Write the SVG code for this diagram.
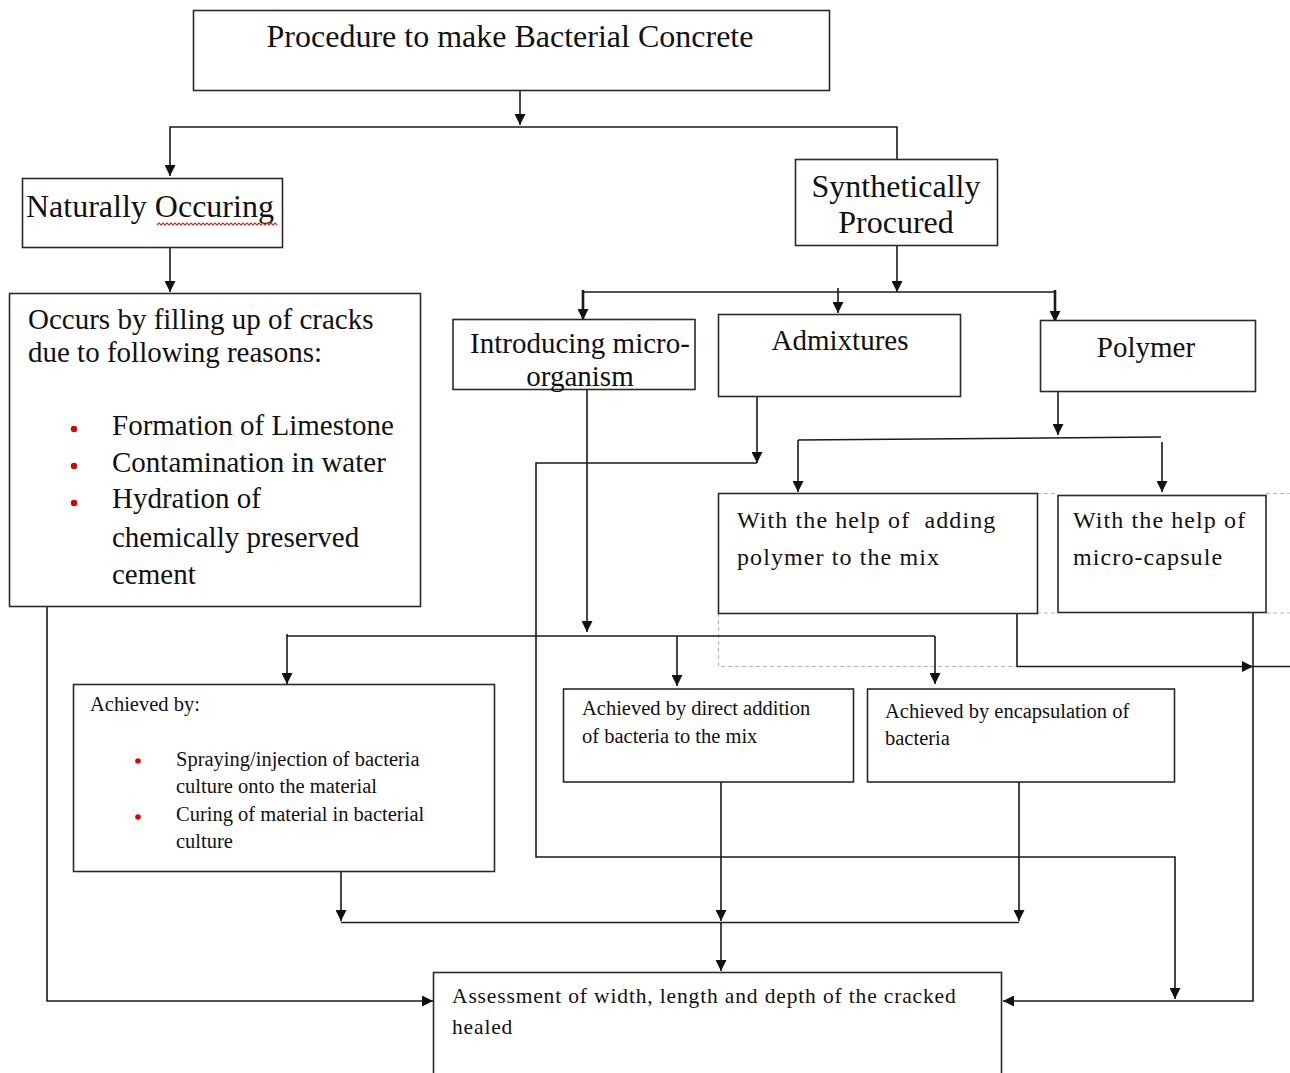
<svg xmlns="http://www.w3.org/2000/svg" width="1290" height="1073" viewBox="0 0 1290 1073">
<style>
.box{fill:#fff;stroke:#2a2a2a;stroke-width:1.6}
.t{font-family:"Liberation Serif","Times New Roman",serif;fill:#111}
.c{fill:none;stroke:#1a1a1a;stroke-width:1.6}
.thick{stroke-width:2.6}
.d{fill:none;stroke:#b8b8b8;stroke-width:1.2;stroke-dasharray:4 3}
.dot{fill:#e00000}
</style>
<defs>
<marker id="ah" markerUnits="userSpaceOnUse" viewBox="0 0 10 10" refX="10" refY="5" markerWidth="12" markerHeight="11" orient="auto">
<path d="M0,0 L10,5 L0,10 z" fill="#111"/>
</marker>
</defs>
<rect width="1290" height="1073" fill="#fff"/>

<g id="dashed-guides">
<path class="d" d="M1037,493.5 H1058 M1266,493.5 H1290"/>
<path class="d" d="M1037,613 H1058 M1266,613 H1290"/>
<path class="d" d="M718.5,613 V666.5 H1016"/>
</g>

<g id="connectors">
<path class="c" d="M520,89 V125" marker-end="url(#ah)"/>
<path class="c" d="M897,159 V127 H170 V176" marker-end="url(#ah)"/>
<path class="c" d="M170,247 V292" marker-end="url(#ah)"/>
<path class="c" d="M897,245 V292" marker-end="url(#ah)"/>
<path class="c" d="M583,292 H1055"/>
<path class="c thick" d="M583,290 V320" marker-end="url(#ah)"/>
<path class="c" d="M838,288 V313" marker-end="url(#ah)"/>
<path class="c thick" d="M1055,290 V322" marker-end="url(#ah)"/>
<path class="c" d="M587,389 V632" marker-end="url(#ah)"/>
<path class="c" d="M757,393 V463" marker-end="url(#ah)"/>
<path class="c" d="M757,463 H536 V857 H1175 V999" marker-end="url(#ah)"/>
<path class="c" d="M1058,391 V435" marker-end="url(#ah)"/>
<path class="c" d="M798,440 L1161,437"/>
<path class="c" d="M798,440 V492" marker-end="url(#ah)"/>
<path class="c" d="M1162,442 V492" marker-end="url(#ah)"/>
<path class="c" d="M1017,613 V666.5 H1253" marker-end="url(#ah)"/>
<path class="c" d="M1253,666.5 H1290"/>
<path class="c" d="M1253,612 V1001 H1003" marker-end="url(#ah)"/>
<path class="c" d="M287,636 H935"/>
<path class="c" d="M287,634 V684" marker-end="url(#ah)"/>
<path class="c" d="M677,636 V686" marker-end="url(#ah)"/>
<path class="c" d="M935,636 V684" marker-end="url(#ah)"/>
<path class="c" d="M341,871 V921" marker-end="url(#ah)"/>
<path class="c" d="M721,782 V921" marker-end="url(#ah)"/>
<path class="c" d="M1019,782 V921" marker-end="url(#ah)"/>
<path class="c" d="M341,922.5 H1019"/>
<path class="c" d="M721,922 V971" marker-end="url(#ah)"/>
<path class="c" d="M47,603 V1001 H433" marker-end="url(#ah)"/>
</g>

<g id="n-title">
<rect class="box" x="193.5" y="10.5" width="636" height="80"/>
<text class="t" x="510" y="47" font-size="32" text-anchor="middle">Procedure to make Bacterial Concrete</text>
</g>

<g id="n-natural">
<rect class="box" x="22.5" y="178.5" width="260" height="69"/>
<text class="t" x="26" y="217" font-size="32">Naturally Occuring</text>
<path d="M157,225 l2,-2 l2,2 l2,-2 l2,2 l2,-2 l2,2 l2,-2 l2,2 l2,-2 l2,2 l2,-2 l2,2 l2,-2 l2,2 l2,-2 l2,2 l2,-2 l2,2 l2,-2 l2,2 l2,-2 l2,2 l2,-2 l2,2 l2,-2 l2,2 l2,-2 l2,2 l2,-2 l2,2 l2,-2 l2,2 l2,-2 l2,2 l2,-2 l2,2 l2,-2 l2,2 l2,-2 l2,2 l2,-2 l2,2 l2,-2 l2,2 l2,-2 l2,2 l2,-2 l2,2 l2,-2 l2,2 l2,-2 l2,2 l2,-2 l2,2 l2,-2 l2,2 l2,-2 l2,2 l2,-2 l2,2" fill="none" stroke="#e02020" stroke-width="1.1"/>
</g>

<g id="n-occurs">
<rect class="box" x="9.5" y="293.5" width="411" height="313"/>
<text class="t" font-size="29"><tspan x="28" y="329">Occurs by filling up of cracks</tspan><tspan x="28" y="362">due to following reasons:</tspan></text>
<circle class="dot" cx="74" cy="429" r="3.2"/>
<circle class="dot" cx="74" cy="466" r="3.2"/>
<circle class="dot" cx="74" cy="503" r="3.2"/>
<text class="t" font-size="29"><tspan x="112" y="435">Formation of Limestone</tspan><tspan x="112" y="472">Contamination in water</tspan><tspan x="112" y="508">Hydration of</tspan><tspan x="112" y="547">chemically preserved</tspan><tspan x="112" y="584">cement</tspan></text>
</g>

<g id="n-synthetic">
<rect class="box" x="795.5" y="159.5" width="202" height="86"/>
<text class="t" font-size="32" text-anchor="middle"><tspan x="896" y="197">Synthetically</tspan><tspan x="896" y="233">Procured</tspan></text>
</g>

<g id="n-micro">
<rect class="box" x="453" y="319.5" width="242" height="70"/>
<text class="t" font-size="29" text-anchor="middle"><tspan x="580" y="353">Introducing micro-</tspan><tspan x="580" y="386">organism</tspan></text>
</g>

<g id="n-admix">
<rect class="box" x="718.5" y="314.5" width="242" height="82"/>
<text class="t" x="840" y="350" font-size="29" text-anchor="middle">Admixtures</text>
</g>

<g id="n-polymer">
<rect class="box" x="1040.5" y="320.5" width="215" height="71"/>
<text class="t" x="1146" y="357" font-size="29" text-anchor="middle">Polymer</text>
</g>

<g id="n-addpoly">
<rect class="box" x="718.5" y="493.5" width="319" height="120"/>
<text class="t" font-size="24" letter-spacing="1.1"><tspan x="737" y="528" xml:space="preserve">With the help of  adding</tspan><tspan x="737" y="565">polymer to the mix</tspan></text>
</g>

<g id="n-capsule">
<rect class="box" x="1058" y="495.5" width="208" height="117"/>
<text class="t" font-size="24" letter-spacing="1.1"><tspan x="1073" y="528">With the help of</tspan><tspan x="1073" y="565">micro-capsule</tspan></text>
</g>

<g id="n-achieved">
<rect class="box" x="73.5" y="684.5" width="421" height="187"/>
<text class="t" x="90" y="711" font-size="20.5">Achieved by:</text>
<circle class="dot" cx="138" cy="761" r="2.8"/>
<circle class="dot" cx="138" cy="817" r="2.8"/>
<text class="t" font-size="20.5"><tspan x="176" y="766">Spraying/injection of bacteria</tspan><tspan x="176" y="793">culture onto the material</tspan><tspan x="176" y="821">Curing of material in bacterial</tspan><tspan x="176" y="848">culture</tspan></text>
</g>

<g id="n-direct">
<rect class="box" x="563.5" y="689" width="290" height="93"/>
<text class="t" font-size="20.5"><tspan x="582" y="715">Achieved by direct addition</tspan><tspan x="582" y="743">of bacteria to the mix</tspan></text>
</g>

<g id="n-encap">
<rect class="box" x="867.5" y="689" width="307" height="93"/>
<text class="t" font-size="20.5"><tspan x="885" y="718">Achieved by encapsulation of</tspan><tspan x="885" y="745">bacteria</tspan></text>
</g>

<g id="n-assess">
<rect class="box" x="433.5" y="972.5" width="568" height="120"/>
<text class="t" font-size="21.5" letter-spacing="0.85"><tspan x="452" y="1003">Assessment of width, length and depth of the cracked</tspan><tspan x="452" y="1034">healed</tspan></text>
</g>
</svg>
